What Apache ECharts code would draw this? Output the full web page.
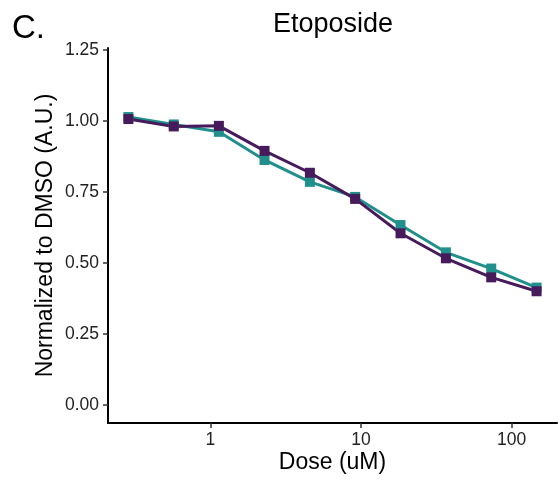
<!DOCTYPE html>
<html>
<head>
<meta charset="utf-8">
<script src="https://cdn.jsdelivr.net/npm/echarts@6/dist/echarts.min.js"></script>
<style>
html,body{margin:0;padding:0;background:#fff;}
#chart{width:558px;height:481px;}
</style>
</head>
<body>
<div id="chart"></div>
<script>
// Data
var doses = [0.286, 0.572, 1.14, 2.29, 4.58, 9.15, 18.3, 36.6, 73.2, 146.4];
var tealValues = [1.014, 0.988, 0.962, 0.863, 0.786, 0.733, 0.634, 0.538, 0.481, 0.414];
var purpleValues = [1.007, 0.981, 0.983, 0.895, 0.818, 0.726, 0.605, 0.517, 0.450, 0.401];
var xTicks = [1, 10, 100];
var yTicks = [0, 0.25, 0.5, 0.75, 1.0, 1.25];

function pairs(xs, ys) { return xs.map(function (x, i) { return [x, ys[i]]; }); }

var FONT = 'Liberation Sans';
var chart = echarts.init(document.getElementById('chart'), null, { renderer: 'canvas' });
chart.setOption({
  animation: false,
  backgroundColor: '#ffffff',
  title: [
    { text: 'Etoposide', left: 333, top: 11, textAlign: 'center', padding: 0,
      textStyle: { fontFamily: FONT, fontSize: 27, fontWeight: 'normal', color: '#000' } },
    { text: 'C.', left: 12, top: 12, padding: 0,
      textStyle: { fontFamily: FONT, fontSize: 33, fontWeight: 'normal', color: '#000' } }
  ],
  grid: { left: 108, right: 1, top: 48, bottom: 58, containLabel: false },
  xAxis: {
    type: 'log', logBase: 10, min: 0.2094, max: 200,
    name: 'Dose (uM)', nameLocation: 'middle', nameGap: 28, nameMoveOverlap: false,
    nameTextStyle: { fontFamily: FONT, fontSize: 23, color: '#000' },
    axisLine: { show: true, onZero: false, lineStyle: { color: '#000', width: 2 } },
    axisTick: { show: true, length: 5, customValues: xTicks, lineStyle: { color: '#333', width: 1.5 } },
    axisLabel: { customValues: xTicks, margin: 8, fontFamily: FONT, fontSize: 17.5, color: '#222',
      formatter: function (v) { return String(Math.round(v)); } },
    splitLine: { show: false }, minorTick: { show: false }
  },
  yAxis: {
    type: 'value', min: -0.0625, max: 1.257,
    name: 'Normalized to DMSO (A.U.)', nameLocation: 'middle', nameGap: 51, nameMoveOverlap: false,
    nameTextStyle: { fontFamily: FONT, fontSize: 23, color: '#000' },
    axisLine: { show: true, onZero: false, lineStyle: { color: '#000', width: 2 } },
    axisTick: { show: true, length: 5, customValues: yTicks, lineStyle: { color: '#333', width: 1.5 } },
    axisLabel: { customValues: yTicks, margin: 9, fontFamily: FONT, fontSize: 17.5, color: '#222',
      formatter: function (v) { return v.toFixed(2); } },
    splitLine: { show: false }
  },
  series: [
    { name: 'Teal', type: 'line', data: pairs(doses, tealValues),
      symbol: 'rect', symbolSize: 10, showAllSymbol: true,
      lineStyle: { color: '#21908C', width: 3 }, itemStyle: { color: '#21908C' } },
    { name: 'Purple', type: 'line', data: pairs(doses, purpleValues),
      symbol: 'rect', symbolSize: 10, showAllSymbol: true,
      lineStyle: { color: '#461A5B', width: 3 }, itemStyle: { color: '#461A5B' } }
  ]
});
</script>
</body>
</html>
